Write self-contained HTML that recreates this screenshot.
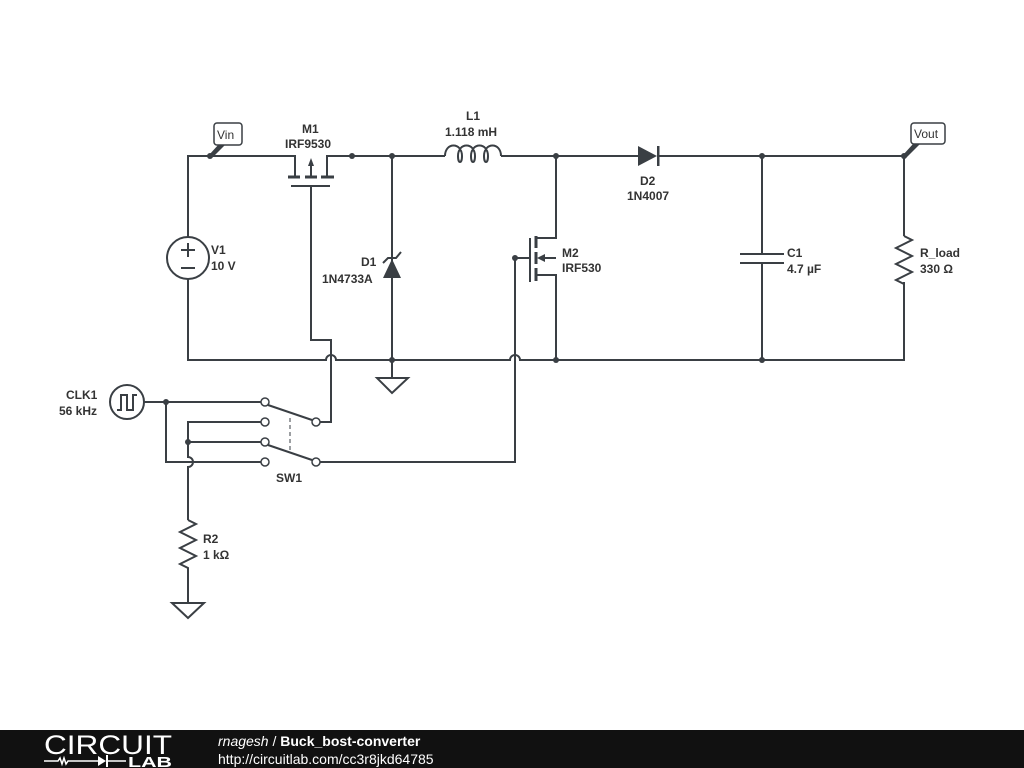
<!DOCTYPE html>
<html><head><meta charset="utf-8"><style>
html,body{margin:0;padding:0;background:#fff;width:1024px;height:768px;overflow:hidden}
svg{display:block}
text{font-family:"Liberation Sans",sans-serif;font-size:12px;font-weight:bold;fill:#333}
</style></head><body>
<svg width="1024" height="768" viewBox="0 0 1024 768" xmlns="http://www.w3.org/2000/svg">
<g stroke="#3a3f44" stroke-width="2" fill="none">
<path d="M188,237 V156 H295 V176"/>
<path d="M327,176 V156 H445"/>
<path d="M501,156 H640"/>
<path d="M658,156 H904 V236"/>
<path d="M288,177 H300 M305,177 H317 M321,177 H334" stroke-width="3"/>
<path d="M291,186 H330"/>
<path d="M311,186 V340 H331 V422 H320"/>
<path d="M311,176 V163"/>
<circle cx="188" cy="258" r="21"/>
<path d="M188,279 V360 H326 a5,5 0 0 1 10,0 H510 a5,5 0 0 1 10,0 H904 V282"/>
<path d="M181,250 H195 M188,243 V257 M181,268 H195"/>
<path d="M392,156 V360"/>
<path d="M383,263 L388,258 H396 L401,252"/>
<path d="M392,360 V378 M377,378 H408 L392,393 Z"/>
<path d="M445,156 c0,-14 17,-14 17,0 c0,8 -4,8 -4,0 c0,-14 17,-14 17,0 c0,8 -4,8 -4,0 c0,-14 17,-14 17,0 c0,8 -4,8 -4,0 c0,-14 17,-14 17,0"/>
<path d="M556,156 V238 H536"/>
<path d="M536,236 V248 M536,252 V264 M536,268 V281" stroke-width="3"/>
<path d="M530,238 V282"/>
<path d="M515,258 H530"/>
<path d="M536,275 H556 V360 M556,258 H540"/>
<path d="M515,258 V462 H320"/>
<path d="M762,156 V254 M740,254 H784 M740,263 H784 M762,263 V360"/>
<path d="M904,236 L912,240 L896,248 L912,256 L896,264 L912,272 L896,280 L904,284 V282"/>
<circle cx="127" cy="402" r="17"/>
<path d="M117,410 H121 V395 H127 V410 H133 V395 H137"/>
<path d="M144,402 H261"/>
<path d="M166,402 V462 H261"/>
<path d="M261,422 H188 V457 a5,5 0 0 1 0,10 V520"/>
<path d="M188,442 H261"/>
<path d="M268,405 L312,420 M268,445 L312,460"/>
<path d="M290,418 V452" stroke-dasharray="4,3" stroke-width="1"/>
<path d="M188,520 L196,524 L180,532 L196,540 L180,548 L196,556 L180,564 L188,568 V603 M172,603 H204 L188,618 Z"/>
</g>
<g fill="#fff" stroke="#3a3f44" stroke-width="1.5">
<circle cx="265" cy="402" r="4"/><circle cx="265" cy="422" r="4"/><circle cx="265" cy="442" r="4"/><circle cx="265" cy="462" r="4"/>
<circle cx="316" cy="422" r="4"/><circle cx="316" cy="462" r="4"/>
</g>
<g fill="#3a3f44">
<polygon points="311,158 308,166 314,166"/>
<polygon points="537,258 545,254 545,262"/>
<polygon points="383,278 401,278 392,259"/>
<polygon points="638,146 638,166 657,156"/>
<rect x="657" y="146" width="2.5" height="20"/>
<circle cx="352" cy="156" r="3"/><circle cx="392" cy="156" r="3"/><circle cx="556" cy="156" r="3"/><circle cx="762" cy="156" r="3"/><circle cx="904" cy="156" r="3"/><circle cx="210" cy="156" r="3"/>
<circle cx="392" cy="360" r="3"/><circle cx="556" cy="360" r="3"/><circle cx="762" cy="360" r="3"/>
<circle cx="515" cy="258" r="3"/><circle cx="166" cy="402" r="3"/><circle cx="188" cy="442" r="3"/>
<polygon points="209,155 219,144 226,144 212,158"/>
<polygon points="903,155 913,144 920,144 906,158"/>
</g>
<g fill="#fff" stroke="#3a3f44" stroke-width="1.5">
<rect x="214" y="123" width="28" height="22" rx="3"/>
<rect x="911" y="123" width="34" height="21" rx="3"/>
</g>
<text x="217" y="139" style="font-weight:normal">Vin</text>
<text x="914" y="138" style="font-weight:normal">Vout</text>
<text x="302" y="133">M1</text>
<text x="285" y="148">IRF9530</text>
<text x="211" y="254">V1</text>
<text x="211" y="270">10 V</text>
<text x="361" y="266">D1</text>
<text x="322" y="283">1N4733A</text>
<text x="466" y="120">L1</text>
<text x="445" y="136">1.118 mH</text>
<text x="640" y="185">D2</text>
<text x="627" y="200">1N4007</text>
<text x="562" y="257">M2</text>
<text x="562" y="272">IRF530</text>
<text x="787" y="257">C1</text>
<text x="787" y="273">4.7 µF</text>
<text x="920" y="257">R_load</text>
<text x="920" y="273">330 Ω</text>
<text x="66" y="399">CLK1</text>
<text x="59" y="415">56 kHz</text>
<text x="276" y="482">SW1</text>
<text x="203" y="543">R2</text>
<text x="203" y="559">1 kΩ</text>
<rect x="0" y="730" width="1024" height="38" fill="#111"/>
<text x="44" y="754" textLength="128" lengthAdjust="spacingAndGlyphs" style="font-size:27px;font-weight:normal;fill:#fff">CIRCUIT</text>
<text x="128" y="767" textLength="44" lengthAdjust="spacingAndGlyphs" style="font-size:15px;fill:#fff">LAB</text>
<path d="M44,761 H58 l2,-3 l2,6 l2,-6 l2,6 l2,-3 H98 M108,761 H126" stroke="#fff" stroke-width="1.5" fill="none"/>
<polygon points="98,756 98,766 106,761" fill="#fff"/><rect x="106" y="755" width="2" height="12" fill="#fff"/>
<text x="218" y="746" style="font-size:14px;fill:#fff"><tspan style="font-style:italic;font-weight:normal">rnagesh</tspan><tspan style="font-weight:normal"> / </tspan>Buck_bost-converter</text>
<text x="218" y="764" style="font-size:14px;font-weight:normal;fill:#fff">http://circuitlab.com/cc3r8jkd64785</text>
</svg>
</body></html>
